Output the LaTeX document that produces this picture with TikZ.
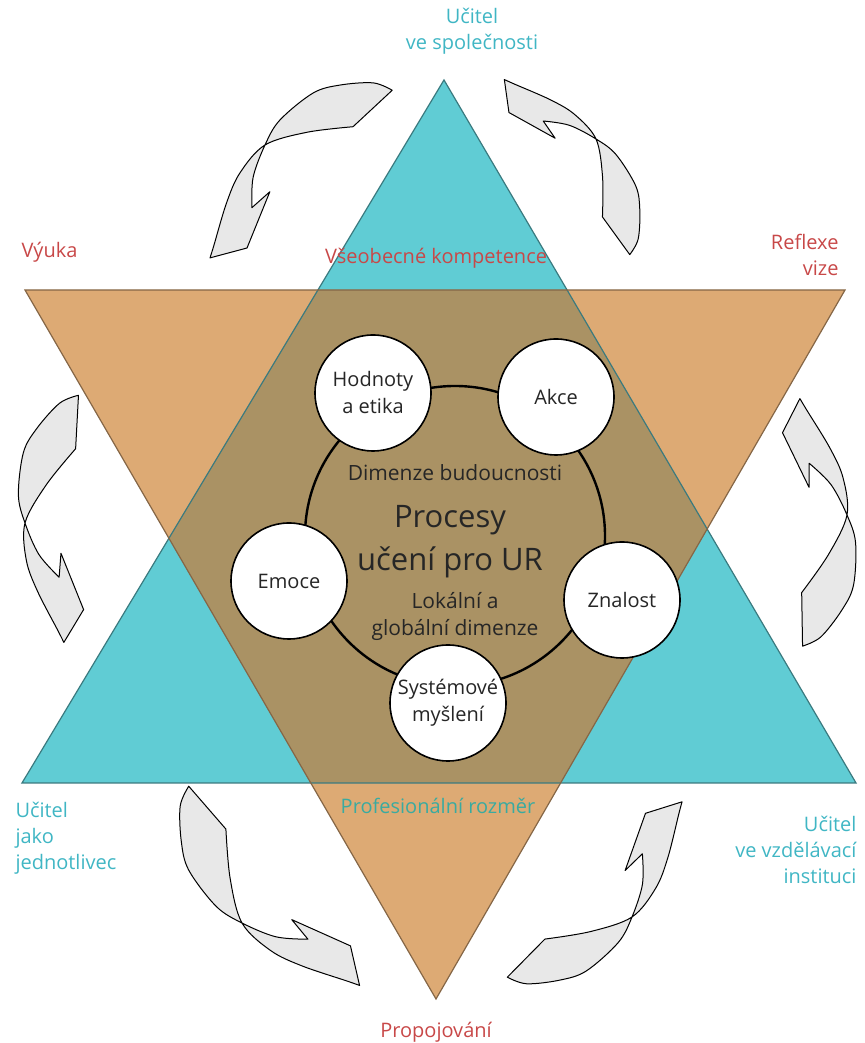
\documentclass[tikz,border=0pt]{standalone}
\usepackage{fontspec}
\setmainfont{Open Sans}
\usepackage{tikz}
\usetikzlibrary{positioning}

\definecolor{starcyan}{RGB}{96,204,212}
\definecolor{starorange}{RGB}{221,170,116}
\definecolor{staroverlap}{RGB}{170,146,100}
\definecolor{labelred}{RGB}{200,72,72}
\definecolor{labelcyan}{RGB}{64,182,196}
\definecolor{labelteal}{RGB}{58,170,160}

\tikzset{
  cyclearrow/.pic={
    \filldraw[fill=gray!18, draw=black, line width=1pt, line join=round]
      (-76,48) -- (-129.5,49)
      -- plot[smooth, tension=0.55] coordinates {(-129.5,49) (-121,30.5) (-95.6,9) (-70.6,-4) (-28,-7.6) (0,0) (31,15) (53,36)}
      -- (29,37) -- (84.5,61.6) -- (118,43)
      -- plot[smooth, tension=0.55] coordinates {(118,43) (107,37) (68,15) (37.5,2.7) (0,0) (-39,20) (-76,48)}
      -- cycle;
  }
}

\begin{document}
\begin{tikzpicture}[x=1pt, y=1pt,
        topic/.style={circle, draw=black, fill=white, line width=1.6pt, minimum size=116pt, inner sep=0pt, align=center, text=black!85, font=\fontsize{20}{27}\selectfont},
        inner/.style={align=center, text=black!85, font=\fontsize{21}{27}\selectfont},
        redlabel/.style={text=labelred, font=\fontsize{20}{26}\selectfont},
        cyanlabel/.style={text=labelcyan, font=\fontsize{20}{26}\selectfont}
    ]
    \useasboundingbox (0,0) rectangle (864,1043);

    % the two triangles of the star
    \fill[starcyan] (444,963) -- (22,260) -- (856,260) -- cycle;
    \fill[starorange] (25,753) -- (845,753) -- (436,44) -- cycle;
    \begin{scope}
        \clip (444,963) -- (22,260) -- (856,260) -- cycle;
        \fill[staroverlap] (25,753) -- (845,753) -- (436,44) -- cycle;
    \end{scope}
    \draw[starcyan!60!black, line width=1.2pt] (444,963) -- (22,260) -- (856,260) -- cycle;
    \draw[starorange!60!black, line width=1.2pt] (25,753) -- (845,753) -- (436,44) -- cycle;

    % learning cycle
    \draw[line width=2.4pt] (455,507) circle[radius=150];
    \node[topic] (values) at (373,650) {Hodnoty\\a etika};
    \node[topic] (action) at (556,646) {Akce};
    \node[topic] (emotion) at (289,462) {Emoce};
    \node[topic] (knowledge) at (622,443) {Znalost};
    \node[topic] (systems) at (448,340) {Systémové\\myšlení};

    \node[inner] (future) at (455,570) {Dimenze budoucnosti};
    \node[inner, font=\fontsize{31}{43}\selectfont] (core) at (450,501) {Procesy\\učení pro UR};
    \node[inner] (local) at (455,427) {Lokální a\\globální dimenze};

    % arrows round the star
    \foreach \px/\py/\ang/\sc in {265/898/224/1, 25/520/268/1, 242/120/312/1.06, 632/126/46.5/1, 847/528/92/1, 596/904/127/0.87}
        \pic[rotate=\ang, scale=\sc] at (\px,\py) {cyclearrow};

    % outer labels
    \node[cyanlabel, align=center] (society) at (472,1012) {Učitel\\ve společnosti};
    \node[redlabel, anchor=west] (teaching) at (18,791) {Výuka};
    \node[redlabel] (general) at (436,785) {Všeobecné kompetence};
    \node[redlabel, align=right, anchor=east] (reflection) at (842,788) {Reflexe\\vize};
    \node[text=labelteal, font=\fontsize{20}{26}\selectfont] (professional) at (438,237) {Profesionální rozměr};
    \node[cyanlabel, align=left, anchor=west] (individual) at (12,205) {Učitel\\jako\\jednotlivec};
    \node[cyanlabel, align=right, anchor=east] (institution) at (860,193) {Učitel\\ve vzdělávací\\instituci};
    \node[redlabel] (linking) at (436,11) {Propojování};
\end{tikzpicture}
\end{document}
